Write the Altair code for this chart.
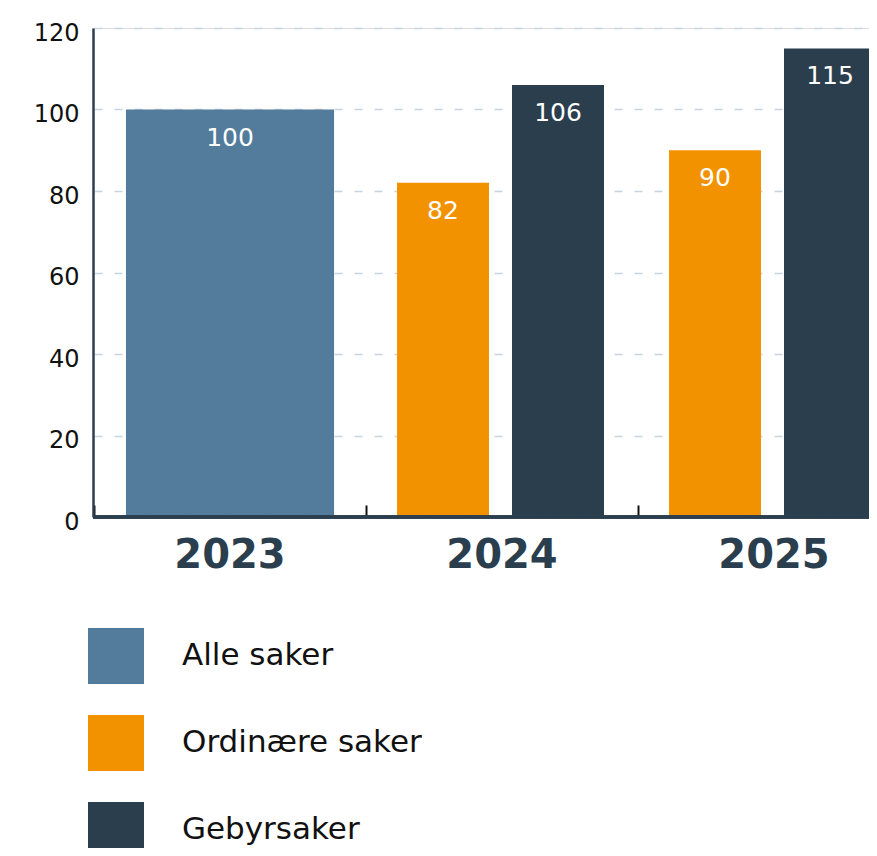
import altair as alt
import pandas as pd

# ---- data ----
years = ["2023", "2024", "2024", "2025", "2025"]
series = ["Alle saker", "Ordinære saker", "Gebyrsaker", "Ordinære saker", "Gebyrsaker"]
values = [100, 82, 106, 90, 115]

year_order = ["2023", "2024", "2025"]
series_order = ["Alle saker", "Ordinære saker", "Gebyrsaker"]
series_colors = ["#537b9b", "#f39200", "#2a3e4e"]
group_series = ["Ordinære saker", "Gebyrsaker"]
y_ticks = [0, 20, 40, 60, 80, 100, 120]

df = pd.DataFrame({"year": years, "series": series, "value": values})

FONT = "DejaVu Sans"
DARK = "#2a3e4e"

x_enc = alt.X(
    "year:N",
    sort=year_order,
    scale=alt.Scale(domain=year_order, range=[1, 817], paddingInner=0, paddingOuter=0),
    axis=alt.Axis(
        title=None,
        labelAngle=0,
        bandPosition=0,
        offset=-12,
        tickSize=12,
        tickWidth=2,
        tickColor="#111111",
        domain=False,
        labelPadding=18,
        labelFont=FONT,
        labelFontSize=40,
        labelFontWeight="bold",
        labelColor=DARK,
    ),
)

y_enc = alt.Y(
    "value:Q",
    scale=alt.Scale(domain=[0, 120]),
    axis=alt.Axis(
        title=None,
        values=y_ticks,
        grid=True,
        gridDash=[8, 12],
        gridColor="#c6d4df",
        gridWidth=1.5,
        domainColor=DARK,
        domainWidth=2.5,
        ticks=False,
        labelFont=FONT,
        labelFontSize=24,
        labelColor="#111111",
        labelPadding=14,
        labelOffset=5,
    ),
)

color_enc = alt.Color(
    "series:N",
    scale=alt.Scale(domain=series_order, range=series_colors),
    legend=alt.Legend(
        title=None,
        orient="none",
        legendX=-5,
        legendY=600,
        symbolType="square",
        symbolSize=3136,
        symbolStrokeWidth=0,
        symbolOpacity=1,
        labelFont=FONT,
        labelFontSize=31,
        labelColor="#111111",
        labelOffset=38,
        labelLimit=500,
        rowPadding=31,
        padding=0,
    ),
)

base = alt.Chart(df)

single = base.transform_filter(alt.datum.series == "Alle saker")
grouped = base.transform_filter(alt.datum.series != "Alle saker")

xoff = alt.XOffset(
    "series:N",
    sort=group_series,
    scale=alt.Scale(domain=group_series, paddingInner=0.2, paddingOuter=0.2826, align=0.477),
)

bar_single = single.mark_bar(width=alt.RelativeBandSize(0.765)).encode(
    x=x_enc, y=y_enc, color=color_enc
)
bar_grouped = grouped.mark_bar().encode(x=x_enc, y=y_enc, color=color_enc, xOffset=xoff)

text_style = dict(color="white", fontSize=25, font=FONT, baseline="middle", dy=28)
text_single = single.mark_text(**text_style).encode(x=x_enc, y=y_enc, text=alt.Text("value:Q"))
text_grouped = grouped.mark_text(**text_style).encode(
    x=x_enc, y=y_enc, xOffset=xoff, text=alt.Text("value:Q")
)

baseline = base.mark_rule(color=DARK, strokeWidth=3).encode(y=alt.datum(0))

chart = (
    alt.layer(bar_single, bar_grouped, text_single, text_grouped, baseline)
    .properties(
        width=776,
        height=489,
        autosize=alt.AutoSizeParams(type="none"),
        padding={"left": 85, "top": 20, "right": 0, "bottom": 331},
    )
    .configure_view(stroke=None)
    .configure(background="white")
)

chart.save("out.html", embed_options={"renderer": "svg", "actions": False})
